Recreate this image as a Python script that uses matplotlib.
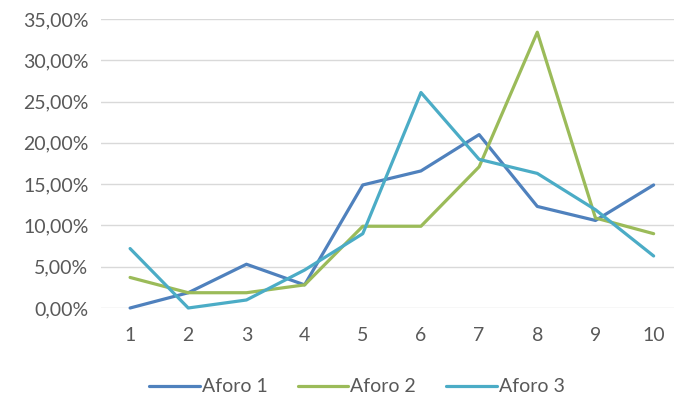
import matplotlib
matplotlib.use("Agg")
import matplotlib.pyplot as plt
from matplotlib.ticker import FuncFormatter

# data (fractions)
x = [1, 2, 3, 4, 5, 6, 7, 8, 9, 10]
aforo1 = [0.000, 0.0185, 0.053, 0.028, 0.149, 0.166, 0.210, 0.123, 0.106, 0.149]
aforo2 = [0.037, 0.0185, 0.0185, 0.028, 0.099, 0.099, 0.171, 0.334, 0.109, 0.090]
aforo3 = [0.072, 0.000, 0.0097, 0.046, 0.090, 0.261, 0.180, 0.163, 0.119, 0.063]
labels = ["Aforo 1", "Aforo 2", "Aforo 3"]
colors = ["#4F81BD", "#9BBB59", "#4BACC6"]

plt.rcParams['font.family'] = ['Lato', 'DejaVu Sans']
txt = "#595959"

fig = plt.figure(figsize=(6.74, 3.99), dpi=100)
ax = fig.add_axes([101/674, 1 - 308/399, 1 - 101/674, (308 - 19)/399])

for ys, lab, c in zip([aforo1, aforo2, aforo3], labels, colors):
    ax.plot(x, ys, color=c, lw=2.3, label=lab, solid_capstyle='round', clip_on=False)

ax.set_ylim(0, 0.35)
ax.set_xlim(0.5, 10.35)
ax.set_yticks([i * 0.05 for i in range(8)])
ax.yaxis.set_major_formatter(FuncFormatter(lambda v, p: f"{v*100:.2f}%".replace(".", ",")))
ax.set_xticks(x)
ax.grid(axis='y', color="#D9D9D9", lw=1)
ax.set_axisbelow(True)
for s in ax.spines.values():
    s.set_visible(False)
ax.tick_params(length=0, labelsize=14, colors=txt, pad=9)
ax.tick_params(axis='x', pad=14)

leg = fig.legend(loc='center', bbox_to_anchor=(357/674, 1 - 387/399), ncol=3, frameon=False,
                 fontsize=14, handlelength=2.6, columnspacing=1.55, handletextpad=0.1)
for t in leg.get_texts():
    t.set_color(txt)

fig.savefig("out.png", dpi=100)
